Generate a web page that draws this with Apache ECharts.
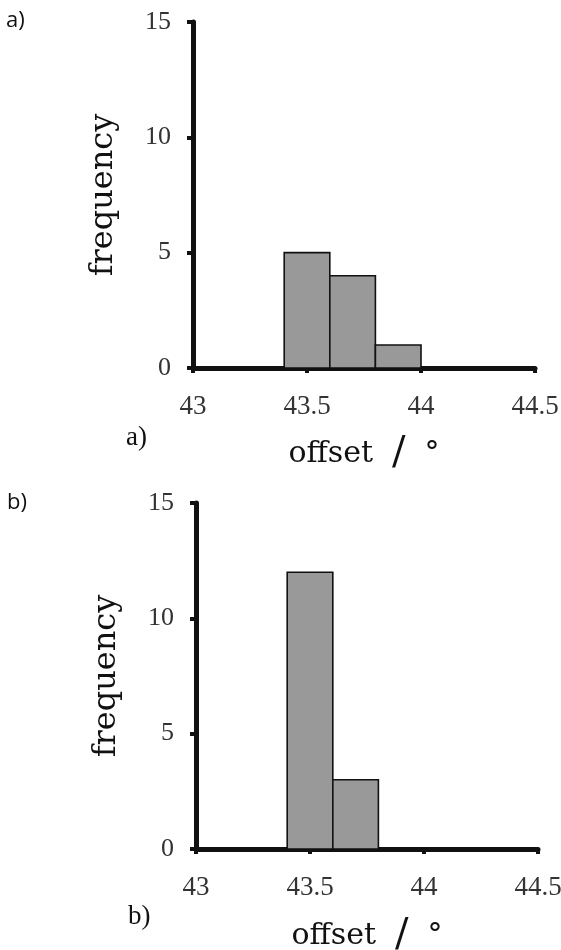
<!DOCTYPE html>
<html>
<head>
<meta charset="utf-8">
<script src="https://cdn.jsdelivr.net/npm/echarts@6/dist/echarts.min.js"></script>
<style>
html,body{margin:0;padding:0;background:#fff;}
#chart{width:561px;height:950px;}
</style>
</head>
<body>
<div id="chart"></div>
<script>
// Panel a) histogram: bin edges and counts
const edgesA = [43.4, 43.6, 43.8, 44.0];
const countsA = [5, 4, 1];
// Panel b) histogram
const edgesB = [43.4, 43.6, 43.8];
const countsB = [12, 3];
// Axis ranges / ticks
const xTicks = [43, 43.5, 44, 44.5];
const yTicks = [0, 5, 10, 15];
const xName = 'offset';
const yName = 'frequency';
const panelLabels = ['a)', 'b)'];

function binsToData(edges, counts) {
  const out = [];
  for (let i = 0; i < counts.length; i++) out.push([edges[i], edges[i + 1], counts[i]]);
  return out;
}

const serif = 'DejaVu Serif';
const tickFont = 'Liberation Serif';

function renderBar(params, api) {
  const x0 = api.value(0), x1 = api.value(1), y = api.value(2);
  const pTop = api.coord([x0, y]);
  const pBot = api.coord([x1, 0]);
  return {
    type: 'rect',
    shape: { x: pTop[0], y: pTop[1], width: pBot[0] - pTop[0], height: pBot[1] - pTop[1] },
    style: { fill: '#999999', stroke: '#111111', lineWidth: 1.6 }
  };
}

function makeX(gridIndex, gap) {
  return {
    type: 'value', gridIndex: gridIndex,
    min: xTicks[0], max: xTicks[xTicks.length - 1], interval: xTicks[1] - xTicks[0],
    splitLine: { show: false },
    axisLine: { show: true, onZero: false, lineStyle: { color: '#111', width: 5 } },
    axisTick: { show: true, length: 5, lineStyle: { color: '#111', width: 4 } },
    axisLabel: { margin: 25, fontFamily: tickFont, fontSize: 27, color: '#333' },
    name: '{a|' + xName + '}{s|  }{b|/}{s|  }{c|°}',
    nameLocation: 'middle',
    nameGap: gap,
    nameTextStyle: {
      rich: {
        a: { fontFamily: serif, fontSize: 30, color: '#111' },
        s: { fontFamily: serif, fontSize: 30 },
        b: { fontFamily: serif, fontSize: 40, color: '#111' },
        c: { fontFamily: serif, fontSize: 30, color: '#111' }
      }
    }
  };
}

function makeY(gridIndex) {
  return {
    type: 'value', gridIndex: gridIndex,
    min: yTicks[0], max: yTicks[yTicks.length - 1], interval: yTicks[1] - yTicks[0],
    splitLine: { show: false },
    axisLine: { show: true, onZero: false, lineStyle: { color: '#111', width: 5 } },
    axisTick: { show: true, length: 6, lineStyle: { color: '#111', width: 4 } },
    axisLabel: { margin: 22, fontFamily: tickFont, fontSize: 26, color: '#333' },
    name: yName,
    nameLocation: 'middle',
    nameRotate: 90,
    nameGap: 73,
    nameTextStyle: { fontFamily: serif, fontSize: 32, color: '#111' }
  };
}

const chart = echarts.init(document.getElementById('chart'));
chart.setOption({
  backgroundColor: '#fff',
  animation: false,
  grid: [
    { left: 193, top: 22, right: 26, bottom: 582, containLabel: false, outerBoundsMode: 'none' },
    { left: 196, top: 503, right: 23, bottom: 101, containLabel: false, outerBoundsMode: 'none' }
  ],
  xAxis: [makeX(0, 66), makeX(1, 67)],
  yAxis: [makeY(0), makeY(1)],
  graphic: [
    { type: 'text', left: 6, top: 10, style: { text: panelLabels[0], font: '22px "Open Sans"', fill: '#111' } },
    { type: 'text', left: 7, top: 492, style: { text: panelLabels[1], font: '22px "Open Sans"', fill: '#111' } },
    { type: 'text', left: 126, top: 424, style: { text: panelLabels[0], font: '27px "Liberation Serif"', fill: '#111' } },
    { type: 'text', left: 128, top: 903, style: { text: panelLabels[1], font: '27px "Liberation Serif"', fill: '#111' } }
  ],
  series: [
    { type: 'custom', xAxisIndex: 0, yAxisIndex: 0, renderItem: renderBar,
      encode: { x: [0, 1], y: 2 }, data: binsToData(edgesA, countsA) },
    { type: 'custom', xAxisIndex: 1, yAxisIndex: 1, renderItem: renderBar,
      encode: { x: [0, 1], y: 2 }, data: binsToData(edgesB, countsB) }
  ]
});
</script>
</body>
</html>
